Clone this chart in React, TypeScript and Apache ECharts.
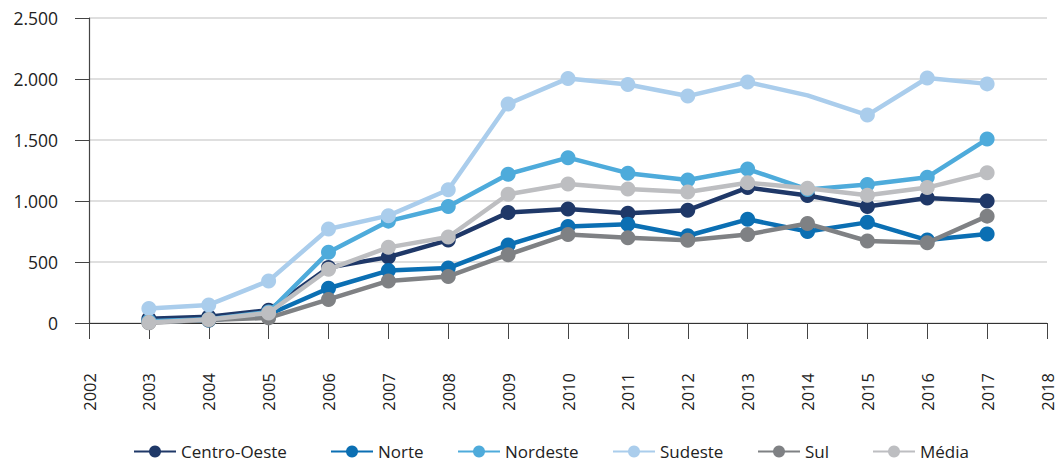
import React, { useEffect, useRef } from "react";
import * as echarts from "echarts";

const years = ["2002","2003","2004","2005","2006","2007","2008","2009","2010","2011","2012","2013","2014","2015","2016","2017","2018"];

const centroOeste = [null, 35, 52, 105, 455, 540, 680, 905, 935, 900, 925, 1110, 1045, 955, 1025, 1000, null];
const norte = [null, 12, 22, 70, 285, 430, 450, 640, 790, 810, 715, 850, 750, 825, 680, 730, null];
const nordeste = [null, 15, 30, 90, 580, 835, 955, 1220, 1355, 1228, 1172, 1262, 1095, 1135, 1195, 1508, null];
const sudeste = [null, 118, 148, 345, 770, 880, 1092, 1795, 2005, 1955, 1860, 1975, 1866, 1704, 2008, 1960, null];
const sul = [null, 2, 25, 42, 193, 345, 382, 560, 726, 699, 678, 726, 815, 672, 658, 876, null];
const media = [null, 4, 28, 82, 440, 620, 705, 1055, 1140, 1099, 1073, 1150, 1105, 1048, 1110, 1232, null];

const names = ["Centro-Oeste", "Norte", "Nordeste", "Sudeste", "Sul", "Média"];
const colors = ["#1f3868", "#0b6fb3", "#4eabdb", "#aacdec", "#7f8184", "#bdbec1"];
const legendLeft = [133, 330, 457, 612, 757, 872];
const seriesData = [centroOeste, norte, nordeste, sudeste, sul, media];
const noMarker: { [k: string]: number[] } = { "Sudeste": [12] };

const fmt = (v: number) => String(v).replace(/\B(?=(\d{3})+(?!\d))/g, ".");

export default function App() {
  const ref = useRef<HTMLDivElement>(null);
  useEffect(() => {
    document.body.style.margin = "0";
    const chart = echarts.init(ref.current!, null, { renderer: "svg" });
    const font = "'Open Sans', 'Noto Sans', sans-serif";
    chart.setOption({
      animation: false,
      backgroundColor: "#ffffff",
      grid: { left: 89, right: 10, top: 18, bottom: 140, containLabel: false },
      legend: names.map((n, i) => ({
        data: [n],
        left: legendLeft[i],
        top: 443,
        padding: 0,
        itemWidth: 42,
        itemHeight: 15,
        textStyle: { fontFamily: font, fontSize: 17, color: "#222" },
      })),
      xAxis: {
        type: "category",
        data: years,
        boundaryGap: false,
        axisLine: { show: true, lineStyle: { color: "#333", width: 1.2 } },
        axisTick: { show: true, length: 16, lineStyle: { color: "#444" }, alignWithLabel: true },
        axisLabel: { rotate: 90, margin: 50, fontFamily: font, fontSize: 16.5, color: "#222", interval: 0 },
        splitLine: { show: false },
      },
      yAxis: {
        type: "value",
        min: 0,
        max: 2500,
        interval: 500,
        axisLine: { show: true, lineStyle: { color: "#444", width: 1.2 } },
        axisTick: { show: true, length: 14, lineStyle: { color: "#444" } },
        axisLabel: { margin: 31, fontFamily: font, fontSize: 17.5, color: "#222", formatter: (v: number) => fmt(v) },
        splitLine: { show: true, lineStyle: { color: "#d4d4d4", width: 1.5 } },
      },
      series: names.map((n, i) => ({
        name: n,
        type: "line",
        data: seriesData[i].map((v, j) =>
          noMarker[n] && noMarker[n].includes(j) ? { value: v, symbol: "none" } : v
        ),
        symbol: "circle",
        symbolSize: 15,
        showSymbol: true,
        connectNulls: false,
        color: colors[i],
        itemStyle: { color: colors[i] },
        lineStyle: { color: colors[i], width: 4.5 },
        z: 2 + i,
      })),
    });
    return () => chart.dispose();
  }, []);
  return <div ref={ref} style={{ width: 1057, height: 463 }} />;
}
